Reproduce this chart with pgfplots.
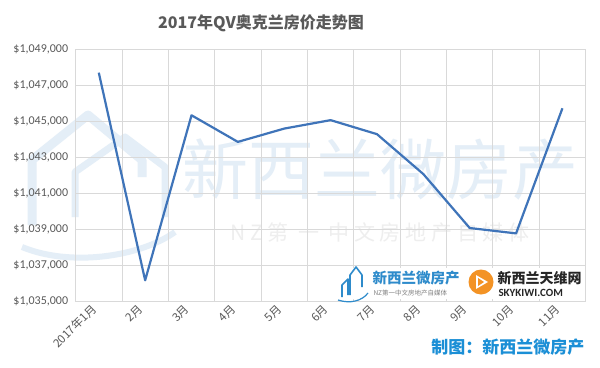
\documentclass[border=0pt]{standalone}
\usepackage{pgfplots}
\pgfplotsset{compat=1.18}
\usepackage{fontspec}
\setmainfont{Carlito}
\newfontfamily\cjk{Noto Sans CJK SC}
\definecolor{linec}{HTML}{3F74B9}
\definecolor{gridc}{HTML}{D9D9D9}
\definecolor{labgray}{HTML}{595959}
\definecolor{wmblue}{HTML}{E4EEF7}
\definecolor{wmgray}{HTML}{EEEEEE}
\definecolor{capblue}{HTML}{1B8FD6}
\definecolor{logoblue}{HTML}{2E8BCB}
\definecolor{orangec}{HTML}{F39325}
\begin{document}
\begin{tikzpicture}[x=1bp,y=1bp]
\path[use as bounding box, fill=white] (0,0) rectangle (600,367);
% watermark
\draw[wmblue, line width=9bp, line join=round] (32,142) -- (32,207) -- (88,252) -- (142,207) -- (142,190);
\draw[wmblue, line width=7bp, line join=round] (75,150) -- (75,195) -- (125,230) -- (165,200) -- (165,150);
\draw[wmblue, line width=6bp] (22,120) .. controls (70,100) and (140,110) .. (175,135);
\node[text=wmblue, font=\cjk\fontsize{66bp}{66bp}\selectfont, anchor=center] at (380,197) {新西兰微房产};
\node[text=wmgray, font=\cjk\fontsize{21bp}{21bp}\selectfont, anchor=center] at (380,134) {N Z 第\ \ 一\ \ 中\ 文\ 房\ 地\ 产\ 自\ 媒\ 体};
\begin{axis}[
  at={(75.6bp,66bp)}, anchor=south west, scale only axis,
  width=510bp, height=251.7bp,
  xmin=-0.5, xmax=10.5, ymin=1035000, ymax=1049000,
  scaled y ticks=false,
  xtick={0,...,10},
  xticklabels={2017年1月,2月,3月,4月,5月,6月,7月,8月,9月,10月,11月},
  minor xtick={-0.5,0.5,...,10.5},
  ytick={1035000,1037000,...,1049000},
  yticklabels={{\$1,035,000},{\$1,037,000},{\$1,039,000},{\$1,041,000},{\$1,043,000},{\$1,045,000},{\$1,047,000},{\$1,049,000}},
  ymajorgrids, xminorgrids,
  grid style={gridc, line width=0.8bp},
  minor grid style={gridc, line width=0.8bp},
  axis line style={gridc, line width=0.8bp},
  major tick length=0pt, minor tick length=0pt,
  yticklabel style={font=\fontsize{12bp}{14bp}\selectfont, text=labgray, xshift=-4bp},
  xticklabel style={font=\cjk\fontsize{11.5bp}{13bp}\selectfont, text=labgray, rotate=45, anchor=east, xshift=-4bp, yshift=-1bp},
  clip=false,
]
\addplot[linec, line width=2.2bp, line join=round] coordinates {
(0,1047700) (1,1036150) (2,1045330) (3,1043850) (4,1044590) (5,1045060)
(6,1044280) (7,1042060) (8,1039060) (9,1038760) (10,1045720)};
\end{axis}
% logos
\fill[white] (336,68) rectangle (583,99);
\draw[logoblue, line width=1.6bp, line join=round] (342,70) -- (342,82) -- (348,88) -- (348,72);
\draw[logoblue, line width=1.6bp, line join=round] (350,72) -- (350,92) -- (356,100) -- (362,92) -- (362,80);
\draw[logoblue, line width=1.2bp] (338,67) .. controls (350,63) and (362,66) .. (368,74);
\node[text=logoblue, font=\cjk\bfseries\fontsize{14.5bp}{15bp}\selectfont, anchor=west] at (369,89) {新西兰微房产};
\node[text=gray, font=\cjk\fontsize{6.5bp}{7bp}\selectfont, anchor=west] at (370,74) {NZ第一中文房地产自媒体};
\fill[orangec] (481,85) circle (12.5);
\fill[white] (476,92) -- (476,78) -- (488,85) -- cycle;
\fill[orangec] (478,89) -- (478,81) -- (484,85) -- cycle;
\node[text=black!85, font=\cjk\bfseries\fontsize{14bp}{15bp}\selectfont, anchor=west] at (494,89) {新西兰天维网};
\node[text=black!85, font=\bfseries\fontsize{11bp}{12bp}\selectfont, anchor=west] at (495,74) {SKYKIWI.COM};
% title
\node[text=labgray, font=\cjk\bfseries\fontsize{16bp}{18bp}\selectfont] at (261,344) {2017年QV奥克兰房价走势图};
\node[text=capblue, font=\cjk\bfseries\fontsize{17bp}{18bp}\selectfont, anchor=east] at (588,20) {制图：新西兰微房产};
\end{tikzpicture}
\end{document}
